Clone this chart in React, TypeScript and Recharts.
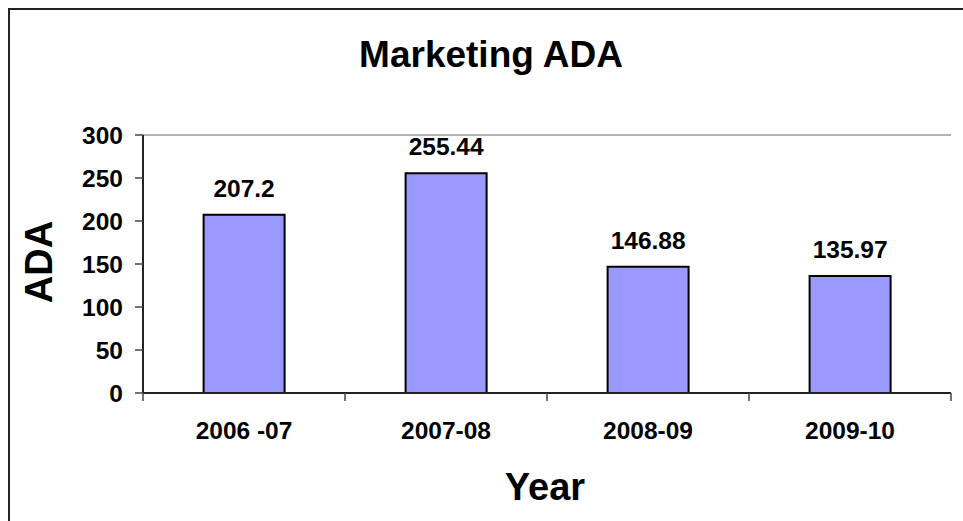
import React from 'react';
import {
  BarChart, Bar, XAxis, YAxis, CartesianGrid, LabelList,
} from 'recharts';

// Données
const years = ['2006 -07', '2007-08', '2008-09', '2009-10'];
const adaValues = [207.2, 255.44, 146.88, 135.97];
const yTicks = [0, 50, 100, 150, 200, 250, 300];

const data = years.map((year, i) => ({ year, ada: adaValues[i] }));

const FONT = '"Liberation Sans", Arial, Helvetica, sans-serif';
const TICK_SIZE = 8;
const TICK_MARGIN = 21;

// Graduation façon Excel : traits aux bords des catégories, libellé au centre
function YearTick(props: any) {
  const { x, y, payload, index, visibleTicksCount, width } = props;
  const half = payload?.offset ?? (width / visibleTicksCount) / 2;
  const y0 = y - TICK_MARGIN - TICK_SIZE;
  const y1 = y - TICK_MARGIN;
  return (
    <g>
      <line x1={x - half} x2={x - half} y1={y0} y2={y1} stroke="#444" strokeWidth={1.5} />
      {index === visibleTicksCount - 1 && (
        <line x1={x + half} x2={x + half} y1={y0} y2={y1} stroke="#444" strokeWidth={1.5} />
      )}
      <text
        x={x}
        y={y}
        dy="0.71em"
        textAnchor="middle"
        fill="#000"
        fontSize={24.5}
        fontWeight="bold"
        fontFamily={FONT}
      >
        {payload.value}
      </text>
    </g>
  );
}

export default function App() {
  return (
    <div style={{ position: 'fixed', left: 0, top: 0, width: 963, height: 521, overflow: 'hidden', background: '#fff' }}>
      {/* cadre du graphique */}
      <div
        style={{
          position: 'absolute', left: 8, top: 8, width: 1000, height: 600,
          borderTop: '2px solid #222', borderLeft: '2px solid #222',
        }}
      />
      <div style={{ position: 'absolute', left: 0, top: 0 }}>
        <BarChart
          width={963}
          height={521}
          data={data}
          margin={{ top: 135, right: 12, bottom: 68, left: 83 }}
          barCategoryGap="30%"
        >
          <CartesianGrid vertical={false} stroke="#666" strokeWidth={1} />
          <XAxis
            dataKey="year"
            height={60}
            tickLine={false}
            tickSize={TICK_SIZE}
            tickMargin={TICK_MARGIN}
            axisLine={{ stroke: '#222', strokeWidth: 2 }}
            tick={<YearTick />}
            interval={0}
          />
          <YAxis
            yAxisId="left"
            domain={[0, 300]}
            ticks={yTicks}
            width={60}
            tickSize={8}
            tickMargin={12}
            axisLine={{ stroke: '#222', strokeWidth: 2 }}
            tickLine={{ stroke: '#444', strokeWidth: 1.5 }}
            tick={{ fill: '#000', fontSize: 24.5, fontWeight: 'bold', fontFamily: FONT }}
          />
          <YAxis
            yAxisId="right"
            orientation="right"
            domain={[0, 300]}
            width={0}
            tick={false}
            tickLine={false}
            axisLine={{ stroke: '#222', strokeWidth: 2 }}
          />
          <Bar
            dataKey="ada"
            yAxisId="left"
            fill="#9999FF"
            stroke="#000"
            strokeWidth={2}
            isAnimationActive={false}
          >
            <LabelList
              dataKey="ada"
              position="top"
              offset={18}
              fill="#000"
              fontSize={24.5}
              fontWeight="bold"
              fontFamily={FONT}
            />
          </Bar>
        </BarChart>
      </div>
      {/* titres */}
      <svg width={963} height={521} style={{ position: 'absolute', left: 0, top: 0, pointerEvents: 'none' }}>
        <text x={491} y={67} textAnchor="middle" fontFamily={FONT} fontWeight="bold" fontSize={37} fill="#000">
          Marketing ADA
        </text>
        <text x={545} y={500} textAnchor="middle" fontFamily={FONT} fontWeight="bold" fontSize={38} fill="#000">
          Year
        </text>
        <text
          x={0}
          y={0}
          transform="translate(52 262) rotate(-90)"
          textAnchor="middle"
          fontFamily={FONT}
          fontWeight="bold"
          fontSize={38}
          fill="#000"
        >
          ADA
        </text>
      </svg>
    </div>
  );
}
